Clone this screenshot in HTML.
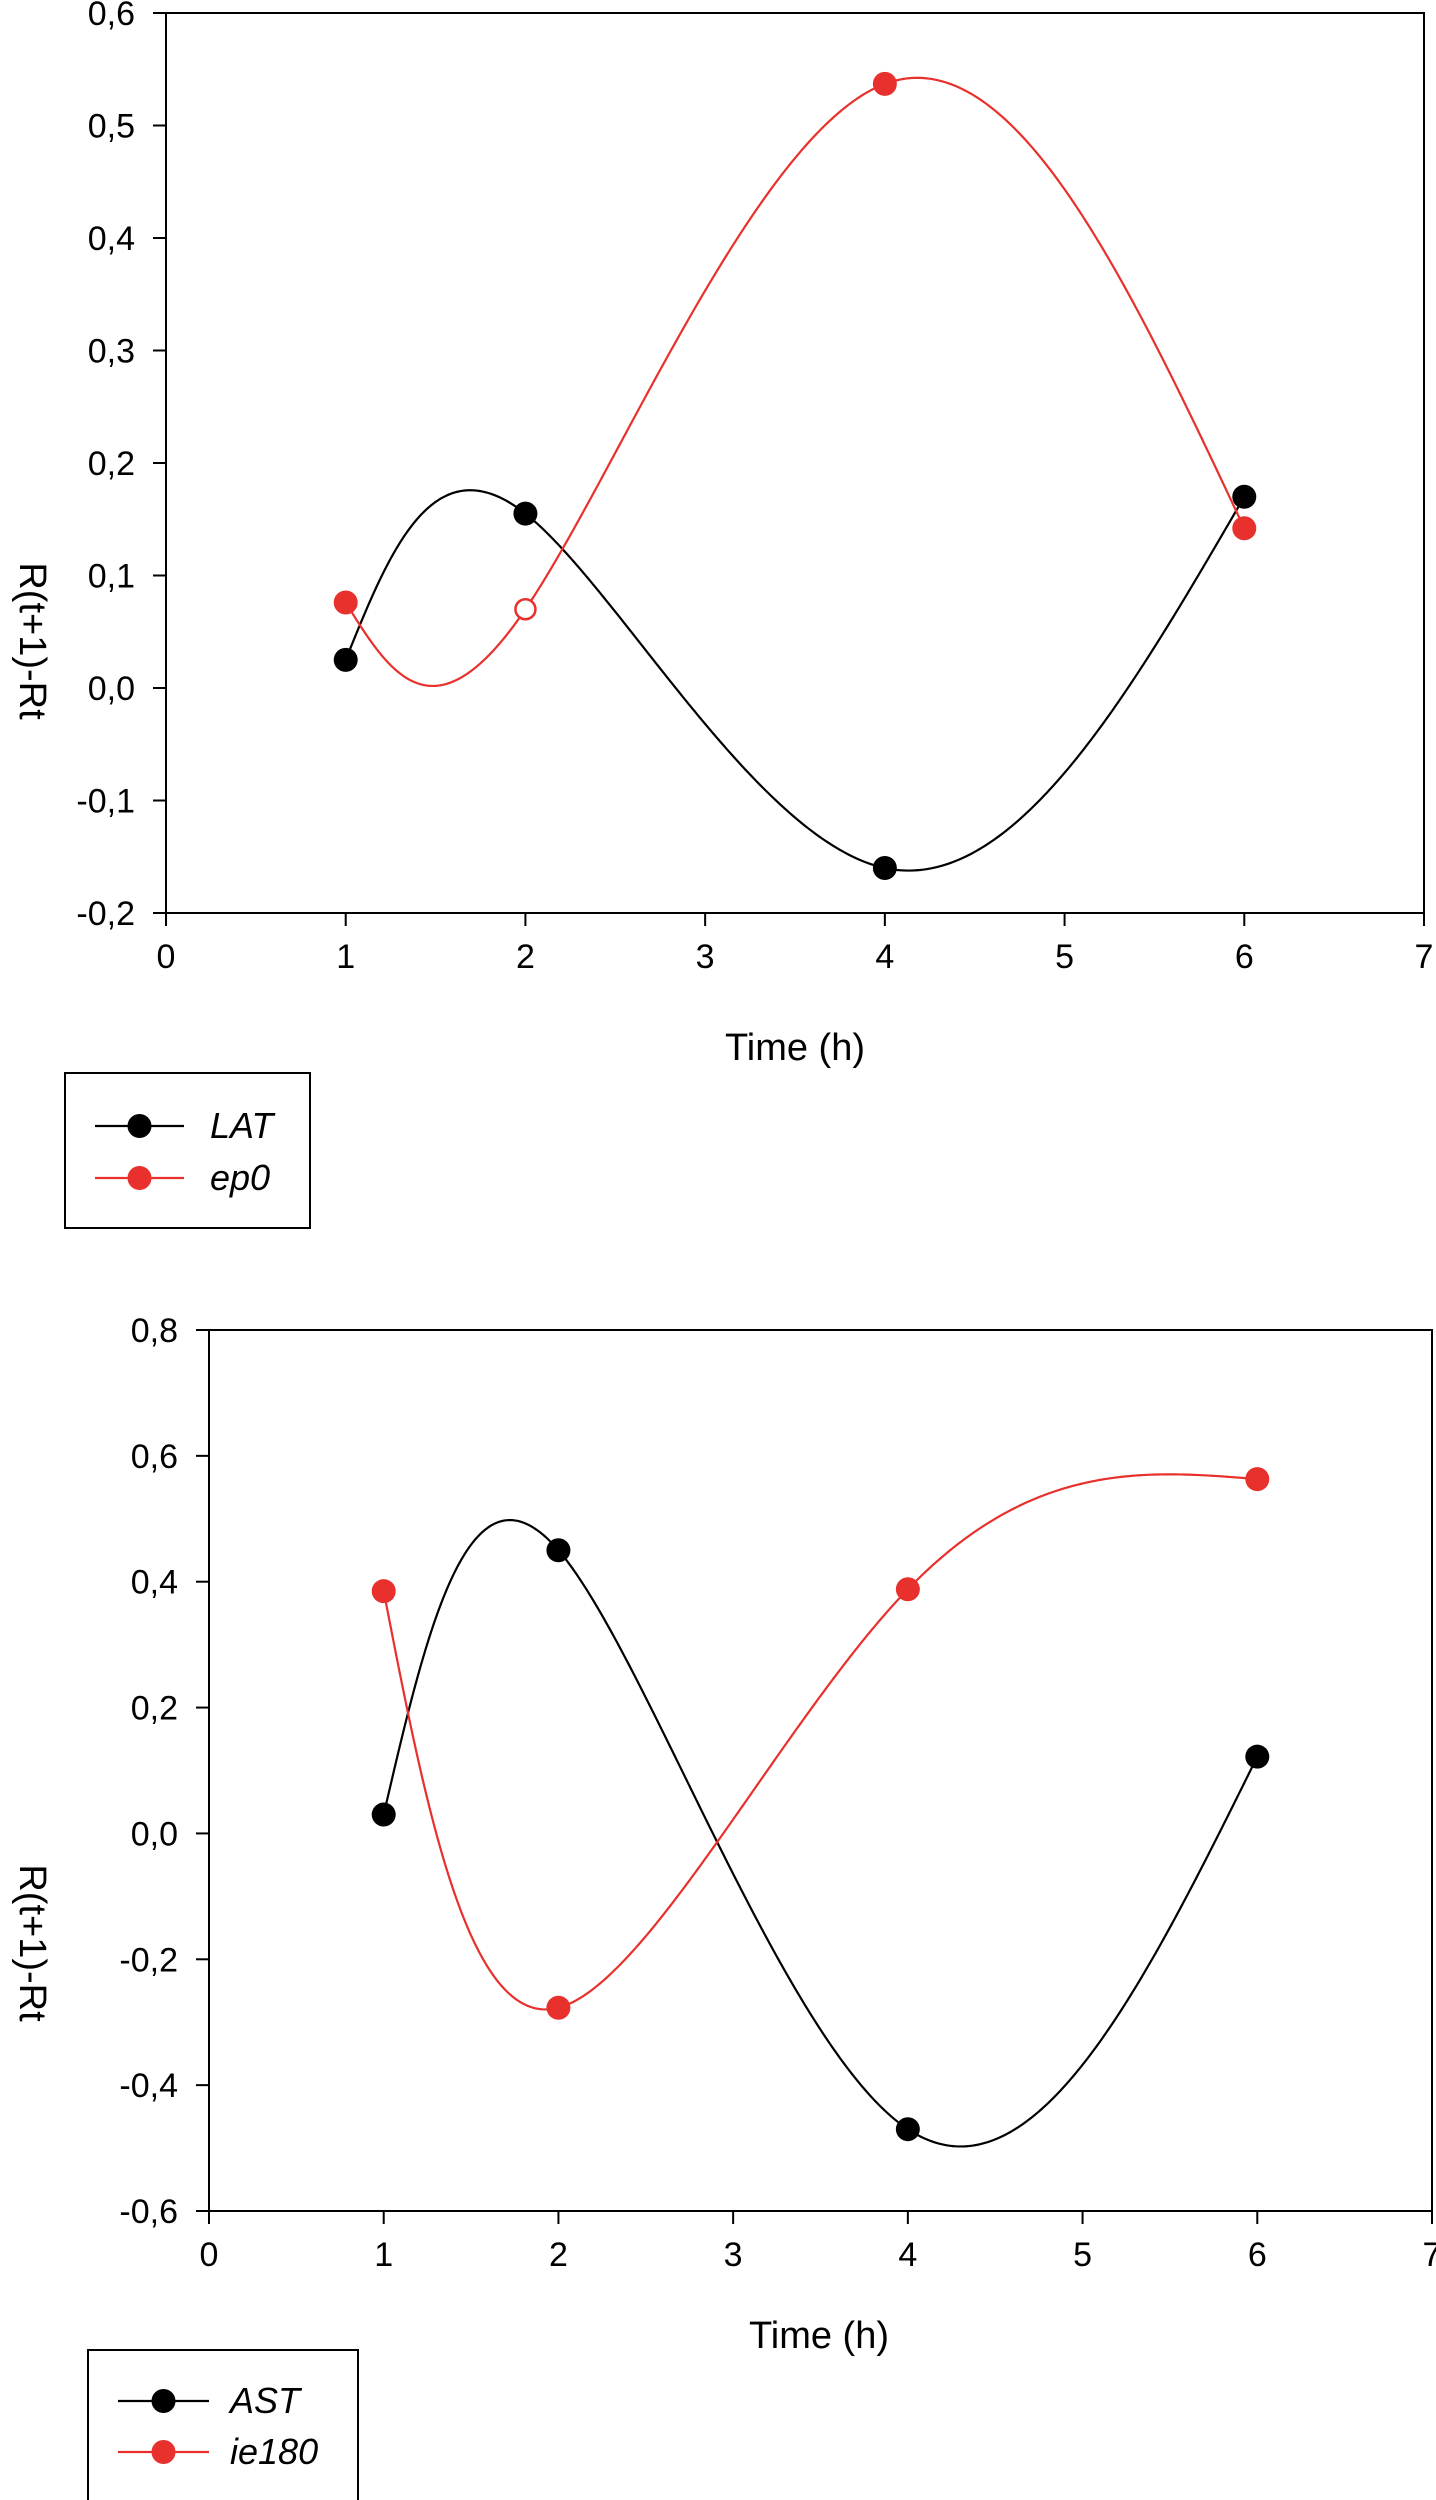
<!DOCTYPE html>
<html><head><meta charset="utf-8"><style>
html,body{margin:0;padding:0;background:#fff;}
svg{display:block;font-family:"Liberation Sans",Arial,sans-serif;}
</style></head><body>
<svg id="chart" width="1436" height="2500" viewBox="0 0 1436 2500" xmlns="http://www.w3.org/2000/svg"></svg>
<script>
const xTicks = [0,1,2,3,4,5,6,7];
const times = [1,2,4,6];
const latValues = [0.025,0.155,-0.16,0.17];
const ep0Values = [0.076,0.07,0.537,0.142];
const yTicks1 = [-0.2,-0.1,0.0,0.1,0.2,0.3,0.4,0.5,0.6];
const yTickLabels1 = ["-0,2","-0,1","0,0","0,1","0,2","0,3","0,4","0,5","0,6"];
const astValues = [0.03,0.45,-0.47,0.122];
const ie180Values = [0.385,-0.277,0.388,0.563];
const yTicks2 = [-0.6,-0.4,-0.2,0.0,0.2,0.4,0.6,0.8];
const yTickLabels2 = ["-0,6","-0,4","-0,2","0,0","0,2","0,4","0,6","0,8"];
const RED = "#e8302c";
const svg = document.getElementById('chart');
const NS = "http://www.w3.org/2000/svg";
function mk(tag, attrs, parent){
  const e = document.createElementNS(NS, tag);
  for (const k in attrs) e.setAttribute(k, attrs[k]);
  (parent||svg).appendChild(e); return e;
}
function spline(xs, ys){
  const n = xs.length, h=[], a=[], l=[1], mu=[0], z=[0], c=new Array(n).fill(0), b=[], d=[];
  for(let i=0;i<n-1;i++) h.push(xs[i+1]-xs[i]);
  for(let i=1;i<n-1;i++) a[i]=3/h[i]*(ys[i+1]-ys[i])-3/h[i-1]*(ys[i]-ys[i-1]);
  for(let i=1;i<n-1;i++){ l[i]=2*(xs[i+1]-xs[i-1])-h[i-1]*mu[i-1]; mu[i]=h[i]/l[i]; z[i]=(a[i]-h[i-1]*z[i-1])/l[i]; }
  l[n-1]=1; z[n-1]=0; c[n-1]=0;
  for(let j=n-2;j>=0;j--){ c[j]=z[j]-mu[j]*c[j+1]; b[j]=(ys[j+1]-ys[j])/h[j]-h[j]*(c[j+1]+2*c[j])/3; d[j]=(c[j+1]-c[j])/(3*h[j]); }
  return function(x){ let j=0; while(j<n-2 && x>xs[j+1]) j++; const t=x-xs[j]; return ys[j]+b[j]*t+c[j]*t*t+d[j]*t*t*t; };
}
function drawChart(cfg){
  const g = mk('g', {});
  
  
  const X = v => cfg.L + (v - 0)/(7 - 0)*(cfg.R - cfg.L);
  const Y = v => cfg.B - (v - cfg.yMin)/(cfg.yMax - cfg.yMin)*(cfg.B - cfg.T);
  const frame = mk('rect', {x:cfg.L,y:cfg.T,width:cfg.R-cfg.L,height:cfg.B-cfg.T,fill:'none',stroke:'#000','stroke-width':2}, g);
  
  
  xTicks.forEach(v=>{
    const t = mk('line',{x1:X(v),x2:X(v),y1:cfg.B,y2:cfg.B+13,stroke:'#000','stroke-width':2},g);
    
    
    const tx = mk('text',{x:X(v),y:cfg.B+55,'text-anchor':'middle','font-size':34},g);
    
    
    tx.textContent = String(v);
  });
  cfg.yTicks.forEach((v,i)=>{
    const t = mk('line',{x1:cfg.L-13,x2:cfg.L,y1:Y(v),y2:Y(v),stroke:'#000','stroke-width':2},g);
    
    
    const tx = mk('text',{x:cfg.L-31,y:Y(v)+12,'text-anchor':'end','font-size':34},g);
    
    
    tx.textContent = cfg.yLabels[i];
  });
  const xt = mk('text',{x:cfg.xTitleX,y:cfg.xTitleY,'text-anchor':'middle','font-size':38},g);
  
  
  xt.textContent = 'Time (h)';
  const yt = mk('text',{x:0,y:0,'text-anchor':'middle','font-size':38,transform:`translate(${cfg.yTitleX},${cfg.yTitleY}) rotate(90)`},g);
  
  
  yt.textContent = 'R(t+1)-Rt';
  cfg.series.forEach(s=>{
    const idx = times.map((_,i)=>i);
    const fx = spline(idx, times), fy = spline(idx, s.values);
    let d = '';
    const N = 400, tmax = times.length-1;
    for(let k=0;k<=N;k++){ const t = tmax*k/N; d += (k?'L':'M')+X(fx(t)).toFixed(2)+','+Y(fy(t)).toFixed(2); }
    const p = mk('path',{d:d,fill:'none',stroke:s.color,'stroke-width':2.2},g);
    
    
    s.values.forEach((v,i)=>{
      const open = s.open && s.open.includes(i);
      const c = mk('circle',{cx:X(times[i]),cy:Y(v),r:open?10:12,fill:open?'#fff':s.color,stroke:s.color,'stroke-width':open?2.5:0},g);
      
      
    });
  });
  const lg = mk('g',{},g);
  
  
  const lb = cfg.legend;
  const lr = mk('rect',{x:lb.x,y:lb.y,width:lb.w,height:lb.h,fill:'#fff',stroke:'#000','stroke-width':2},lg);
  
  
  cfg.series.forEach((s,i)=>{
    const yy = lb.rows[i];
    const ln = mk('line',{x1:lb.lx1,x2:lb.lx2,y1:yy,y2:yy,stroke:s.color,'stroke-width':2.2},lg);
    
    
    const c = mk('circle',{cx:(lb.lx1+lb.lx2)/2,cy:yy,r:12,fill:s.color},lg);
    
    
    const t = mk('text',{x:lb.tx,y:yy+12,'font-size':36,'font-style':'italic'},lg);
    
    
    t.textContent = s.label;
  });
}
drawChart({name:'chart-top',L:166,R:1424,T:13,B:913,yMin:-0.2,yMax:0.6,yTicks:yTicks1,yLabels:yTickLabels1,
  xTitleX:795,xTitleY:1060,yTitleX:20,yTitleY:641,
  series:[{key:'lat',label:'LAT',values:latValues,color:'#000'},{key:'ep0',label:'ep0',values:ep0Values,color:RED,open:[1]}],
  legend:{x:65,y:1073,w:245,h:155,rows:[1126,1178],lx1:95,lx2:184,tx:210}});
drawChart({name:'chart-bottom',L:209,R:1432,T:1330,B:2211,yMin:-0.6,yMax:0.8,yTicks:yTicks2,yLabels:yTickLabels2,
  xTitleX:819,xTitleY:2348,yTitleX:20,yTitleY:1943,
  series:[{key:'ast',label:'AST',values:astValues,color:'#000'},{key:'ie180',label:'ie180',values:ie180Values,color:RED}],
  legend:{x:88,y:2350,w:270,h:160,rows:[2401,2452],lx1:118,lx2:209,tx:230}});
</script>
</body></html>
